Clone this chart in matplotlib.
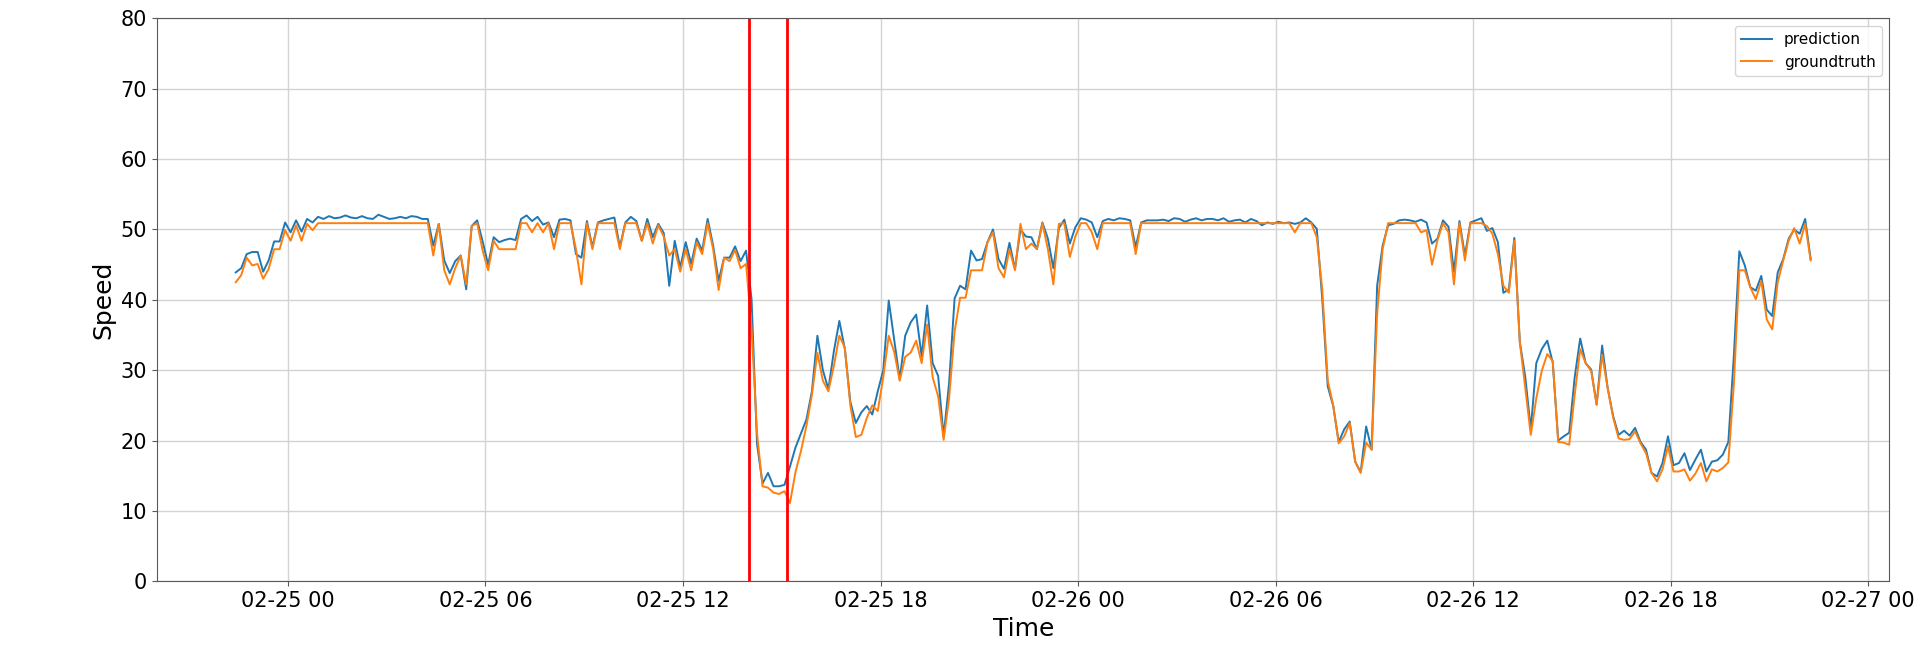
import matplotlib
matplotlib.use('Agg')
import matplotlib.pyplot as plt
import matplotlib.dates as mdates
import pandas as pd

# 10-minute samples, starting 02-24 22:25
start = '2019-02-24 22:25'
step = '10min'

prediction = [
    43.9, 44.5, 46.5, 46.8, 46.8, 44.0, 45.6, 48.3, 48.3, 51.0, 49.6, 51.3, 49.7, 51.5, 51.0, 51.8,
    51.5, 51.9, 51.6, 51.7, 52.0, 51.7, 51.6, 51.9, 51.6, 51.5, 52.1, 51.8, 51.5,
    51.6, 51.8, 51.6, 51.9, 51.8, 51.5, 51.5, 47.7, 50.8, 45.6, 43.8, 45.5, 46.3, 41.5, 50.5,
    51.3, 48.3, 45.0, 48.9, 48.2, 48.5, 48.7, 48.5, 51.5, 52.0, 51.2, 51.8, 50.7, 51.0,
    48.9, 51.4, 51.5, 51.3, 46.5, 46.0, 51.2, 47.5, 51.0, 51.3, 51.5, 51.7, 47.5, 51.0, 51.8,
    51.2, 48.4, 51.5, 48.9, 50.8, 49.5, 42.0, 48.4, 44.6, 48.2, 45.1, 48.7, 47.0, 51.5,
    47.7, 42.7, 46.0, 46.0, 47.6, 45.5, 47.0, 40.1, 19.5, 13.9, 15.4, 13.5, 13.5, 13.7, 16.3,
    19.0, 21.0, 23.0, 27.0, 34.9, 30.0, 27.3, 32.7, 37.0, 33.0, 25.5, 22.5, 24.0, 24.9,
    23.7, 27.0, 30.0, 39.9, 34.3, 28.7, 34.9, 36.8, 37.9, 32.0, 39.2, 31.0, 29.2, 20.6, 28.2,
    40.2, 42.0, 41.5, 47.0, 45.6, 45.8, 48.2, 50.0, 45.8, 44.4, 48.1, 44.4, 50.0, 49.0,
    48.9, 47.2, 51.0, 48.7, 44.5, 50.2, 51.4, 48.0, 50.3, 51.6, 51.4, 51.0, 48.9, 51.2, 51.5,
    51.3, 51.6, 51.5, 51.3, 47.5, 51.0, 51.3, 51.3, 51.3, 51.4, 51.2, 51.6, 51.5, 51.1, 51.4,
    51.6, 51.3, 51.5, 51.5, 51.3, 51.6, 51.1, 51.3, 51.4, 51.0, 51.5, 51.2, 50.6, 51.0, 50.8,
    51.1, 50.9, 51.0, 50.8, 51.0, 51.6, 51.0, 50.1, 40.1, 27.7, 24.9, 19.8, 21.6, 22.7,
    17.0, 15.5, 22.0, 18.7, 42.0, 47.7, 50.6, 50.8, 51.3, 51.4, 51.3, 51.1, 51.4, 51.0, 48.0,
    48.7, 51.3, 50.4, 44.0, 51.2, 46.3, 51.0, 51.3, 51.6, 49.8, 50.2, 48.2, 41.0, 41.5,
    48.8, 34.0, 29.0, 21.6, 31.0, 33.0, 34.2, 31.1, 20.0, 20.6, 21.1, 29.0, 34.5, 31.0, 30.1,
    25.1, 33.5, 27.5, 23.5, 20.8, 21.4, 20.7, 21.8, 19.8, 18.7, 15.4, 14.9, 16.8, 20.6,
    16.5, 16.8, 18.2, 15.8, 17.3, 18.7, 15.6, 17.0, 17.2, 18.0, 19.8, 32.0, 46.9,
    44.9, 41.8, 41.3, 43.4, 38.6, 37.7, 43.9, 45.8, 48.7, 50.0, 49.4, 51.5, 45.8,
]

groundtruth = [
    42.5, 43.5, 46.0, 44.9, 45.1, 43.0, 44.4, 47.2, 47.2, 49.9, 48.4, 50.6, 48.4, 50.8, 49.9, 50.9,
    50.9, 50.9, 50.9, 50.9, 50.9, 50.9, 50.9, 50.9, 50.9, 50.9, 50.9, 50.9, 50.9,
    50.9, 50.9, 50.9, 50.9, 50.9, 50.9, 50.9, 46.3, 50.8, 44.2, 42.2, 44.5, 46.3, 42.2, 50.5,
    50.9, 47.0, 44.2, 48.4, 47.2, 47.2, 47.2, 47.2, 50.9, 50.9, 49.6, 50.9, 49.6, 50.9,
    47.2, 50.9, 50.9, 50.9, 47.2, 42.2, 50.9, 47.2, 50.9, 50.9, 50.9, 50.9, 47.2, 50.9, 50.9,
    50.9, 48.4, 50.9, 48.0, 50.6, 49.0, 46.3, 47.2, 44.0, 47.2, 44.2, 48.2, 46.5, 50.9,
    47.2, 41.4, 46.0, 45.5, 47.1, 44.5, 45.1, 36.0, 21.0, 13.5, 13.3, 12.6, 12.4, 12.8, 11.1,
    15.5, 18.5, 22.1, 26.5, 32.5, 28.5, 27.0, 30.6, 34.9, 33.2, 25.0, 20.5, 20.8, 23.2,
    25.0, 24.2, 29.0, 34.9, 32.6, 28.5, 31.9, 32.5, 34.2, 31.0, 36.5, 29.0, 26.3, 20.1, 26.0,
    35.5, 40.3, 40.3, 44.2, 44.2, 44.2, 48.2, 49.6, 44.5, 43.2, 47.2, 44.2, 50.8, 47.2,
    48.0, 47.2, 50.9, 47.2, 42.2, 50.8, 50.9, 46.1, 49.0, 50.9, 50.9, 49.6, 47.2, 50.9, 50.9,
    50.9, 50.9, 50.9, 50.9, 46.5, 50.9, 50.9, 50.9, 50.9, 50.9, 50.9, 50.9, 50.9, 50.9, 50.9,
    50.9, 50.9, 50.9, 50.9, 50.9, 50.9, 50.9, 50.9, 50.9, 50.9, 50.9, 50.9, 50.9, 50.9, 50.9,
    50.9, 50.9, 50.9, 49.6, 50.9, 50.9, 50.9, 48.9, 41.5, 28.5, 25.0, 19.6, 20.6, 22.5,
    17.0, 15.4, 19.7, 18.7, 38.0, 47.2, 50.9, 50.9, 50.9, 50.9, 50.9, 50.9, 49.6, 49.9, 45.0,
    48.5, 50.9, 49.6, 42.2, 50.9, 45.6, 50.9, 50.9, 50.9, 50.5, 49.4, 46.5, 42.0, 41.0,
    48.4, 34.0, 27.4, 20.8, 26.0, 29.9, 32.3, 31.3, 19.8, 19.7, 19.4, 26.5, 33.0, 31.0, 29.9,
    25.1, 32.2, 27.5, 23.3, 20.3, 20.1, 20.2, 21.3, 19.6, 18.2, 15.4, 14.2, 15.9, 19.2,
    15.6, 15.6, 15.9, 14.3, 15.3, 16.8, 14.2, 15.9, 15.6, 16.1, 16.9, 28.0, 44.2,
    44.2, 41.8, 40.1, 42.7, 37.2, 35.8, 42.5, 45.6, 48.4, 50.2, 48.0, 50.8, 45.6,
]

# red markers
marks = ['2019-02-25 14:00', '2019-02-25 15:10']

times = pd.date_range(start, periods=len(prediction), freq=step)

fig, ax = plt.subplots(figsize=(19.26, 6.59), dpi=100)
fig.subplots_adjust(left=0.0815, right=0.981, top=0.972, bottom=0.118)

ax.plot(times, prediction, color='#1f77b4', lw=1.4, label='prediction')
ax.plot(times, groundtruth, color='#ff7f0e', lw=1.4, label='groundtruth')
for m in marks:
    ax.axvline(pd.Timestamp(m), color='red', lw=2)

ax.set_ylim(0, 80)
ax.xaxis.set_major_locator(mdates.HourLocator(byhour=[0, 6, 12, 18]))
ax.xaxis.set_major_formatter(mdates.DateFormatter('%m-%d %H'))
ax.grid(True, color='#d3d3d3', lw=1)
ax.set_axisbelow(True)
for s in ax.spines.values():
    s.set_color('0.35')

ax.set_xlabel('Time', fontsize=18)
ax.set_ylabel('Speed', fontsize=18)
ax.tick_params(labelsize=15, color='0.35')
ax.legend(loc='upper right', fontsize=11)

fig.savefig('out.png', dpi=100)
